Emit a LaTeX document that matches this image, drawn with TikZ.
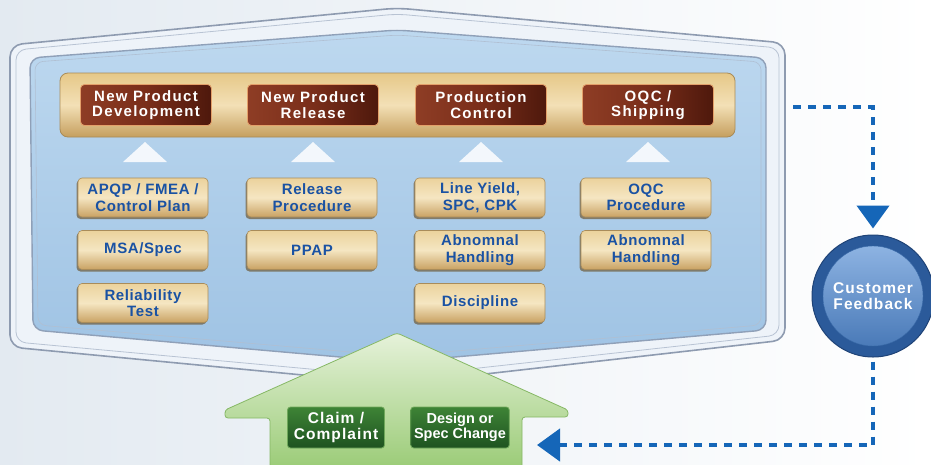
\documentclass[tikz,border=0pt]{standalone}
\usepackage{fontspec}
\setmainfont{Liberation Sans}
\newfontfamily\tanfont[LetterSpace=4]{Liberation Sans}
\newfontfamily\brownfont[LetterSpace=9]{Liberation Sans}
\newfontfamily\cffont[LetterSpace=7]{Liberation Sans}
\newfontfamily\claimfont[LetterSpace=7]{Liberation Sans}
\usetikzlibrary{arrows.meta,shadows}
\definecolor{fbblue}{HTML}{1566B8}
\definecolor{tantext}{HTML}{1A52A3}
\definecolor{frameline}{HTML}{8E9BB0}
\definecolor{tanA}{HTML}{EBD29C}
\definecolor{tanB}{HTML}{C9A263}
\definecolor{tanC}{HTML}{F5E6C2}
\definecolor{tanD}{HTML}{A98C5A}
\definecolor{tanS}{HTML}{6E5A38}
\definecolor{brA}{HTML}{8E3D25}
\definecolor{brB}{HTML}{4E180C}
\definecolor{brC}{HTML}{7A2E1A}
\definecolor{brD}{HTML}{E4A06A}
\definecolor{grA}{HTML}{3E8436}
\definecolor{grB}{HTML}{1E5220}
\definecolor{grD}{HTML}{6FA85A}
\definecolor{bgA}{HTML}{E3EAF1}
\definecolor{frA}{HTML}{EEF3F9}
\definecolor{frB}{HTML}{B8C3D3}
\definecolor{pnA}{HTML}{BDD8EF}
\definecolor{pnB}{HTML}{9FC3E4}
\definecolor{pnD}{HTML}{8FA0B8}
\definecolor{pnE}{HTML}{B0BFD2}
\definecolor{barA}{HTML}{E6C888}
\definecolor{barB}{HTML}{C59F5E}
\definecolor{barC}{HTML}{F3E0B6}
\definecolor{barD}{HTML}{A98B57}
\definecolor{gaA}{HTML}{E6F2DA}
\definecolor{gaB}{HTML}{9ACB76}
\definecolor{gaD}{HTML}{86B865}
\definecolor{cfA}{HTML}{2B5A9A}
\definecolor{cfB}{HTML}{1F4377}
\definecolor{cfC}{HTML}{8DB3E2}
\definecolor{cfE}{HTML}{4A7AB8}
\definecolor{cfF}{HTML}{3A6AA8}
\tikzset{
  tanbox/.style={rounded corners=4pt, minimum width=130pt, minimum height=39pt,
    top color=tanA, bottom color=tanB, middle color=tanC,
    draw=tanD, line width=0.6pt, align=center, text=tantext,
    font=\tanfont\fontsize{15}{16.5}\selectfont\bfseries,
    drop shadow={shadow xshift=-1.5pt, shadow yshift=-2pt, fill=tanS, opacity=0.7}},
  brownbox/.style={rounded corners=4pt, minimum width=131pt, minimum height=41pt,
    left color=brA, right color=brB, middle color=brC,
    draw=brD, line width=0.8pt, align=center, text=white,
    font=\brownfont\fontsize{15}{15.5}\selectfont\bfseries},
  greenbox/.style={rounded corners=3pt, minimum width=97pt, minimum height=41pt,
    top color=grA, bottom color=grB, draw=grD, line width=0.8pt,
    align=center, text=white, font=\fontsize{14.5}{15.5}\selectfont\bfseries},
  fb/.style={draw=fbblue, line width=4.5pt, dash pattern=on 8pt off 7pt,
    -{Triangle[length=23pt,width=32pt,fill=fbblue]}},
  uptri/.style={fill=white, opacity=0.85},
}
\begin{document}
\begin{tikzpicture}[x=1pt,y=-1pt]
\path[use as bounding box] (0,0) rectangle (931,464);
\shade[left color=bgA, right color=white] (0,0) rectangle (931,464);
% outer frame
\path[fill=frA, draw=frameline, line width=1.6pt, rounded corners=12pt]
  (10,45) -- (397,8) -- (785,43) -- (785,340) -- (397,384) -- (10,347) -- cycle;
\path[draw=frB, line width=0.8pt, rounded corners=10pt]
  (16,50) -- (397,14) -- (779,48) -- (779,335) -- (397,377) -- (16,342) -- cycle;
% inner panel
\path[top color=pnA, bottom color=pnB, draw=pnD, line width=1.4pt, rounded corners=10pt]
  (30,58) -- (397,30) -- (766,58) -- (766,330) -- (397,362) -- (33,330) -- cycle;
\path[draw=pnE, line width=0.6pt, rounded corners=8pt]
  (35,62) -- (397,35) -- (761,62) -- (761,325) -- (397,356) -- (38,325) -- cycle;
% tan bar
\path[rounded corners=8pt, top color=barA, bottom color=barB, middle color=barC,
  draw=barD, line width=0.8pt] (60,73) rectangle (735,137);
% top boxes
\node[brownbox] (npd) at (146,105) {New Product\\Development};
\node[brownbox] (npr) at (313,105) {New Product\\Release};
\node[brownbox] (pc)  at (481,105) {Production\\Control};
\node[brownbox] (oqc) at (648,105) {OQC /\\Shipping};
% up triangles
\foreach \cx in {145,313,481,648}{
  \fill[uptri] (\cx-22,162) -- (\cx,142) -- (\cx+22,162) -- cycle;
}
% tan boxes
\node[tanbox] (apqp) at (143,197.5) {APQP / FMEA /\\Control Plan};
\node[tanbox] (msa)  at (143,250) {MSA/Spec};
\node[tanbox] (rel)  at (143,303) {Reliability\\Test};
\node[tanbox] (rp)   at (312,197.5) {Release\\Procedure};
\node[tanbox] (ppap) at (312,250) {PPAP};
\node[tanbox] (ly)   at (480,197.5) {Line Yield,\\SPC, CPK};
\node[tanbox] (ah1)  at (480,250) {Abnomnal\\Handling};
\node[tanbox] (dis)  at (480,303) {Discipline};
\node[tanbox] (oqcp) at (646,197.5) {OQC\\Procedure};
\node[tanbox] (ah2)  at (646,250) {Abnomnal\\Handling};
% green arrow
\path[rounded corners=3pt, top color=gaA, bottom color=gaB, draw=gaD, line width=0.8pt]
  (397,333) -- (568,410) -- (568,417) -- (522,417) -- (522,470) -- (270,470) -- (270,418) -- (225,418) -- (225,410) -- cycle;
\node[greenbox, font=\claimfont\fontsize{15.5}{16}\selectfont\bfseries] (claim) at (336,427.5) {Claim /\\Complaint};
\node[greenbox] (dsc) at (460,427.5) {Design or\\Spec Change};
% customer feedback
\node[circle, minimum size=122pt, fill=cfA, draw=cfB, line width=1pt] (cf) at (873,296) {};
\node[circle, minimum size=100pt, top color=cfC, bottom color=cfE, draw=cfF,
  align=center, text=white, font=\cffont\fontsize{15.5}{16}\selectfont\bfseries] (cfi) at (873,296) {Customer\\Feedback};
% feedback connectors
\coordinate (fbA) at (793,107);
\coordinate (gR) at (537,445);
\draw[fb, shorten >=6pt] (fbA) -| (cf.north);
\draw[fb, shorten <=4pt] (cf.south) |- (gR);
\end{tikzpicture}
\end{document}
